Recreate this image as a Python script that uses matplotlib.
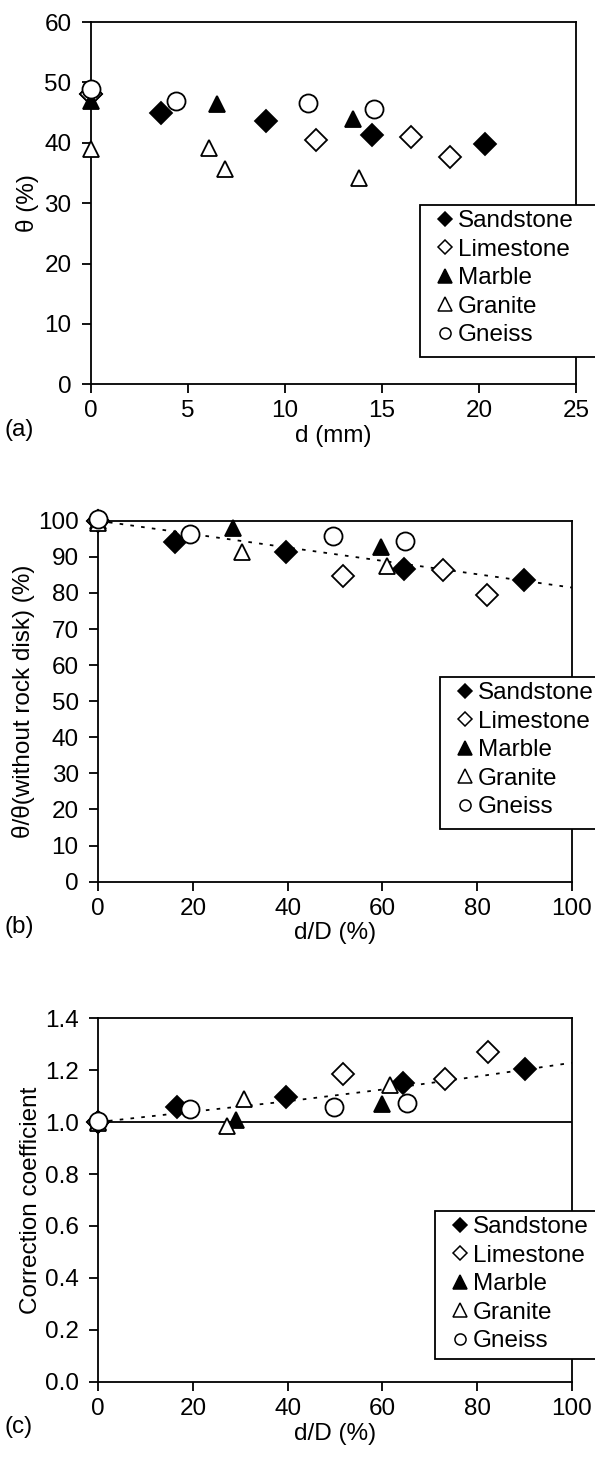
import numpy as np
import matplotlib
matplotlib.use("Agg")
import matplotlib.pyplot as plt
from matplotlib.patches import Rectangle

plt.rcParams["font.family"] = ["Liberation Sans", "DejaVu Sans"]
plt.rcParams["font.size"] = 17.5

W, H = 595, 1467

rocks = ["Sandstone", "Limestone", "Marble", "Granite", "Gneiss"]

# (a) θ versus disk thickness d (mm)
a_sandstone_x = [0, 3.6, 9.0, 14.5, 20.3]
a_sandstone_y = [48.0, 44.9, 43.6, 41.3, 39.8]
a_limestone_x = [0, 11.6, 16.5, 18.5]
a_limestone_y = [48.0, 40.4, 41.0, 37.7]
a_marble_x = [0, 6.5, 13.5]
a_marble_y = [47.0, 46.4, 43.9]
a_granite_x = [0, 6.1, 6.9, 13.8]
a_granite_y = [39.0, 39.2, 35.6, 34.1]
a_gneiss_x = [0, 4.4, 11.2, 14.6]
a_gneiss_y = [48.9, 46.9, 46.6, 45.6]

# (b) θ/θ(without rock disk) versus d/D
b_sandstone_x = [0, 16.2, 39.7, 64.6, 90.0]
b_sandstone_y = [100, 94.2, 91.3, 86.7, 83.5]
b_limestone_x = [0, 51.7, 72.9, 82.1]
b_limestone_y = [100, 84.6, 86.3, 79.3]
b_marble_x = [0, 28.5, 59.8]
b_marble_y = [100, 98.0, 92.7]
b_granite_x = [0, 30.3, 61.0]
b_granite_y = [99.5, 91.3, 87.5]
b_gneiss_x = [0, 19.3, 49.6, 64.8]
b_gneiss_y = [100.5, 96.3, 95.9, 94.3]
b_trend_x = [0, 100]
b_trend_y = [100, 81.5]

# (c) correction coefficient versus d/D
c_sandstone_x = [0, 16.7, 39.7, 64.4, 90.1]
c_sandstone_y = [1.0, 1.056, 1.096, 1.152, 1.203]
c_limestone_x = [0, 51.7, 73.3, 82.3]
c_limestone_y = [1.0, 1.183, 1.167, 1.269]
c_marble_x = [0, 29.2, 60.0]
c_marble_y = [1.0, 1.007, 1.07]
c_granite_x = [0, 27.3, 30.8, 61.6]
c_granite_y = [0.995, 0.983, 1.09, 1.141]
c_gneiss_x = [0, 19.4, 49.7, 65.3]
c_gneiss_y = [1.003, 1.049, 1.056, 1.073]
c_trend_x = [0, 20, 40, 60, 80, 100]
c_trend_y = [1.0, 1.04, 1.08, 1.125, 1.175, 1.228]

styles = {
    "Sandstone": dict(marker="D", mfc="black", ms=11, legend_ms=6.8),
    "Limestone": dict(marker="D", mfc="white", ms=11, legend_ms=6.8),
    "Marble": dict(marker="^", mfc="black", ms=12, legend_ms=10),
    "Granite": dict(marker="^", mfc="white", ms=12, legend_ms=10),
    "Gneiss": dict(marker="o", mfc="white", ms=13, legend_ms=8),
}


def draw_points(ax, series):
    for name, (xs, ys) in zip(rocks, series):
        st = styles[name]
        ax.plot(xs, ys, linestyle="none", marker=st["marker"], ms=st["ms"],
                mfc=st["mfc"], mec="black", mew=1.3, label=name, clip_on=False,
                zorder=3)


def style_axes(ax):
    for s in ax.spines.values():
        s.set_linewidth(1.3)
    ax.tick_params(direction="out", length=6.5, width=1.3)
    ax.tick_params(axis="y", pad=7.5)
    ax.tick_params(axis="x", pad=5)


def add_legend(ax, left, top, bottom):
    # box in pixels from the top-left corner; it runs off the right edge
    fig = ax.figure
    box = Rectangle((left / W, 1 - bottom / H), 1.05 - left / W, (bottom - top) / H,
                    transform=fig.transFigure, facecolor="white", edgecolor="black",
                    lw=1.3, zorder=4, clip_on=False)
    ax.add_patch(box)
    leg = ax.legend(loc="upper left",
                    bbox_to_anchor=((left + 16) / W, 1 - (top + 5) / H),
                    bbox_transform=fig.transFigure, frameon=False,
                    handlelength=0.7, handletextpad=0.2,
                    labelspacing=0.27, borderpad=0, borderaxespad=0)
    for handle, name in zip(leg.legend_handles, rocks):
        handle.set_markersize(styles[name]["legend_ms"])
        handle.set_markeredgewidth(1.1)
    leg.set_zorder(5)


fig = plt.figure(figsize=(W / 100, H / 100), dpi=100)

# panel (a)
ax1 = fig.add_axes([0.153, 0.738, 0.815, 0.247])
draw_points(ax1, [(a_sandstone_x, a_sandstone_y), (a_limestone_x, a_limestone_y),
                  (a_marble_x, a_marble_y), (a_granite_x, a_granite_y),
                  (a_gneiss_x, a_gneiss_y)])
ax1.set_xlim(0, 25)
ax1.set_ylim(0, 60)
ax1.set_xticks(np.arange(0, 26, 5))
ax1.set_yticks(np.arange(0, 61, 10))
ax1.set_xlabel("d (mm)", labelpad=2)
ax1.set_ylabel("θ (%)", labelpad=4)
style_axes(ax1)
add_legend(ax1, 420, 205, 357)
fig.text(0.008, 0.707, "(a)", va="center")

# panel (b)
ax2 = fig.add_axes([0.165, 0.399, 0.796, 0.246])
ax2.plot(b_trend_x, b_trend_y, color="black", linestyle=(0, (2, 4)), lw=1.3, zorder=2)
draw_points(ax2, [(b_sandstone_x, b_sandstone_y), (b_limestone_x, b_limestone_y),
                  (b_marble_x, b_marble_y), (b_granite_x, b_granite_y),
                  (b_gneiss_x, b_gneiss_y)])
ax2.set_xlim(0, 100)
ax2.set_ylim(0, 100)
ax2.set_xticks(np.arange(0, 101, 20))
ax2.set_yticks(np.arange(0, 101, 10))
ax2.set_xlabel("d/D (%)", labelpad=2)
ax2.set_ylabel("θ/θ(without rock disk) (%)", labelpad=2)
style_axes(ax2)
add_legend(ax2, 440, 677, 829)
fig.text(0.008, 0.368, "(b)", va="center")

# panel (c)
ax3 = fig.add_axes([0.165, 0.058, 0.796, 0.248])
ax3.axhline(1.0, color="black", lw=1.3, zorder=1)
ax3.plot(c_trend_x, c_trend_y, color="black", linestyle=(0, (2, 4)), lw=1.3, zorder=2)
draw_points(ax3, [(c_sandstone_x, c_sandstone_y), (c_limestone_x, c_limestone_y),
                  (c_marble_x, c_marble_y), (c_granite_x, c_granite_y),
                  (c_gneiss_x, c_gneiss_y)])
ax3.set_xlim(0, 100)
ax3.set_ylim(0, 1.4)
ax3.set_xticks(np.arange(0, 101, 20))
ax3.set_yticks(np.arange(0, 1.41, 0.2))
ax3.yaxis.set_major_formatter(matplotlib.ticker.FormatStrFormatter("%.1f"))
ax3.set_xlabel("d/D (%)", labelpad=2)
ax3.set_ylabel("Correction coefficient", labelpad=2)
style_axes(ax3)
add_legend(ax3, 435, 1211, 1359)
fig.text(0.008, 0.027, "(c)", va="center")

fig.savefig("out.png", dpi=100)
